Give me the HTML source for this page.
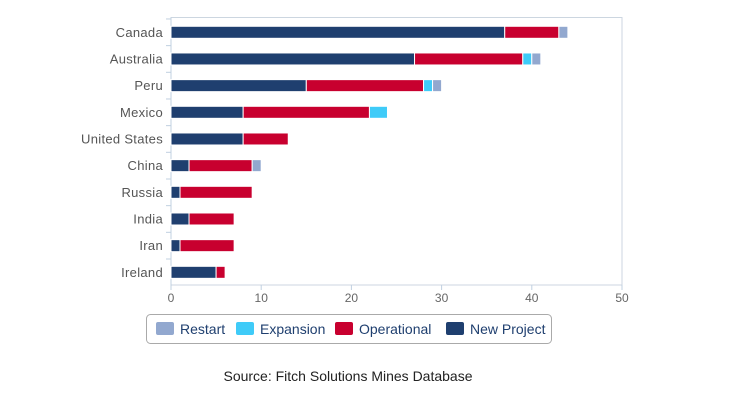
<!DOCTYPE html>
<html><head><meta charset="utf-8"><style>
body{margin:0;background:#fff;width:730px;height:413px;overflow:hidden;font-family:"Liberation Sans","DejaVu Sans",sans-serif}
</style></head><body>
<svg id="chart" width="730" height="413" xmlns="http://www.w3.org/2000/svg"></svg>
<script>
const categories=["Canada","Australia","Peru","Mexico","United States","China","Russia","India","Iran","Ireland"];
const newProject=[37,27,15,8,8,2,1,2,1,5];
const operational=[6,12,13,14,5,7,8,5,6,1];
const expansion=[0,1,1,2,0,0,0,0,0,0];
const restart=[1,1,1,0,0,1,0,0,0,0];
const xTicks=[0,10,20,30,40,50];
const seriesNames=["New Project","Operational","Expansion","Restart"];
const seriesColors=["#1f3f6f","#c8002f","#3fcbf8","#92a8cf"];

const svg=document.getElementById('chart');
const NS='http://www.w3.org/2000/svg';
const L=171,R=622,T=17.5,B=285;
const x=v=>L+(v/50)*(R-L);
const band=26.67;
const yc=i=>32.3+band*i;
function mk(tag,attrs,parent){const e=document.createElementNS(NS,tag);for(const k in attrs)e.setAttribute(k,attrs[k]);(parent||svg).appendChild(e);return e;}

const frame=mk('rect',{x:L,y:T,width:R-L,height:B-T,fill:'none',stroke:'#ccd6e0','stroke-width':1});


const ax=mk('line',{x1:L,y1:T,x2:L,y2:B,stroke:'#c0d0e0'});



categories.forEach((c,i)=>{
  const t=mk('text',{x:L-8,y:yc(i)+4.5,'text-anchor':'end','font-size':13,fill:'#555','letter-spacing':'0.3'});
  t.textContent=c;
  
  
  const ty=yc(i)-band/2;
  const tk=mk('line',{x1:L-5,y1:ty,x2:L,y2:ty,stroke:'#c0d0e0'});
  
  
  const series=[newProject,operational,expansion,restart];
  let acc=0;
  series.forEach((s,si)=>{
    const v=s[i];
    if(v>0){
      const r=mk('rect',{x:x(acc),y:yc(i)-6,width:x(acc+v)-x(acc),height:12,fill:seriesColors[si],stroke:'#fff','stroke-width':1});
      
      
    }
    acc+=v;
  });
});
xTicks.forEach(v=>{
  const tk=mk('line',{x1:x(v),y1:B,x2:x(v),y2:B+5,stroke:'#c0d0e0'});
  
  
  const t=mk('text',{x:x(v),y:B+17,'text-anchor':'middle','font-size':12,fill:'#666'});
  t.textContent=v;
  
  
});
const lg=mk('g',{});


mk('rect',{x:146.5,y:314.5,width:405,height:29,rx:4,fill:'#fff',stroke:'#aaa'},lg);
const legendOrder=[3,2,1,0];
const lx=[156,236,335,446];
legendOrder.forEach((si,k)=>{
  const g=mk('g',{},lg);
  
  
  mk('rect',{x:lx[k],y:322,width:18,height:13,rx:2,fill:seriesColors[si]},g);
  const t=mk('text',{x:lx[k]+24,y:334,'font-size':14,fill:'#1f3f6f'},g);
  t.textContent=seriesNames[si];
});
const src=mk('text',{x:348,y:381,'text-anchor':'middle','font-size':14,fill:'#222'});
src.textContent='Source: Fitch Solutions Mines Database';


</script>
</body></html>
